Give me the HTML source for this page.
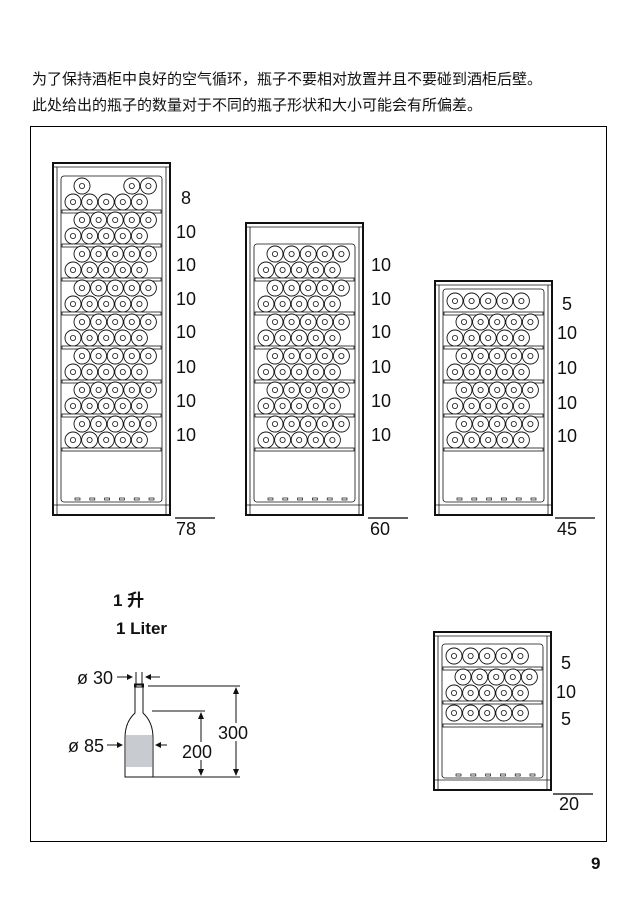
<!DOCTYPE html>
<html><head><meta charset="utf-8"><style>
body{margin:0;background:#fff;width:638px;height:903px;position:relative;overflow:hidden;font-family:"Liberation Sans","Noto Sans CJK SC",sans-serif;}
.t{position:absolute;left:32px;font-size:15px;line-height:18px;color:#111;white-space:nowrap;}
svg{position:absolute;left:0;top:0;}
</style></head><body>
<div class="t" style="top:71px">为了保持酒柜中良好的空气循环，瓶子不要相对放置并且不要碰到酒柜后壁。</div>
<div class="t" style="top:97px">此处给出的瓶子的数量对于不同的瓶子形状和大小可能会有所偏差。</div>
<svg id="s" width="638" height="903" viewBox="0 0 638 903" font-family="Liberation Sans, Noto Sans CJK SC, sans-serif">
<rect x="30.5" y="126.5" width="576" height="715" fill="none" stroke="#000" stroke-width="1"/>
<g id="cab"></g>
<g font-size="18" fill="#111">
<text x="181" y="204">8</text>
<text x="176" y="238">10</text><text x="176" y="271">10</text><text x="176" y="305">10</text><text x="176" y="338">10</text><text x="176" y="373">10</text><text x="176" y="407">10</text><text x="176" y="441">10</text>
<text x="371" y="271">10</text><text x="371" y="305">10</text><text x="371" y="338">10</text><text x="371" y="373">10</text><text x="371" y="407">10</text><text x="371" y="441">10</text>
<text x="562" y="310">5</text><text x="557" y="339">10</text><text x="557" y="374">10</text><text x="557" y="409">10</text><text x="557" y="442">10</text>
<text x="561" y="669">5</text><text x="556" y="698">10</text><text x="561" y="725">5</text>
<text x="176" y="535">78</text><text x="370" y="535">60</text><text x="557" y="535">45</text><text x="559" y="810">20</text>
</g>
<g stroke="#000" stroke-width="1.2">
<line x1="175" y1="518" x2="215" y2="518"/><line x1="368" y1="518" x2="408" y2="518"/><line x1="555" y1="518" x2="595" y2="518"/><line x1="553" y1="794" x2="593" y2="794"/>
</g>
<g font-weight="bold" font-size="17" fill="#111"><text x="113" y="606">1 升</text><text x="116" y="634">1 Liter</text></g>
<g fill="none" stroke="#111" stroke-width="1">
<rect x="126" y="735" width="26" height="32" fill="#c8cbd0" stroke="none"/>
<path d="M135,685 L135,713 Q125,722 125,738 L125,777 L153,777 L153,738 Q153,722 143,713 L143,685 Z"/>
<rect x="134.5" y="684" width="9" height="3"/>
<line x1="136" y1="672" x2="136" y2="687"/><line x1="142" y1="672" x2="142" y2="687"/>
<line x1="117" y1="677" x2="132" y2="677"/><line x1="146" y1="677" x2="160" y2="677"/>
<line x1="107" y1="745" x2="121" y2="745"/><line x1="157" y1="745" x2="167" y2="745"/>
<line x1="148" y1="686" x2="240" y2="686"/><line x1="152" y1="711" x2="205" y2="711"/><line x1="153" y1="777" x2="240" y2="777"/>
<line x1="236" y1="690" x2="236" y2="773"/><line x1="201" y1="715" x2="201" y2="773"/>
</g>
<g fill="#111">
<path d="M133,677 l-6,-3 v6z"/><path d="M145,677 l6,-3 v6z"/>
<path d="M123,745 l-6,-3 v6z"/><path d="M155,745 l6,-3 v6z"/>
<path d="M236,687 l-3,7 h6z"/><path d="M236,776 l-3,-7 h6z"/>
<path d="M201,712 l-3,7 h6z"/><path d="M201,776 l-3,-7 h6z"/>
</g>
<rect x="217" y="723" width="32" height="18" fill="#fff"/>
<rect x="181" y="742" width="32" height="18" fill="#fff"/>
<g font-size="18" fill="#111"><text x="77" y="684">ø 30</text><text x="68" y="752">ø 85</text><text x="218" y="739">300</text><text x="182" y="758">200</text></g>
<text x="591" y="869" font-size="17" font-weight="bold" fill="#111">9</text>
</svg>
<script>
var g=document.getElementById('cab'),h='';
function C(cx,cy){h+='<circle cx="'+cx+'" cy="'+cy+'" r="8" fill="#fff" stroke="#111" stroke-width="0.9"/><circle cx="'+cx+'" cy="'+cy+'" r="2.6" fill="none" stroke="#111" stroke-width="0.8"/>';}
function cab(x,y,b,panelTop,secs,drawBot){
 var w=117;
 h+='<rect x="'+x+'" y="'+y+'" width="'+w+'" height="'+(b-y)+'" fill="#fff" stroke="#111" stroke-width="2"/>';
 h+='<line x1="'+(x+4)+'" y1="'+(y+4)+'" x2="'+(x+4)+'" y2="'+(b-1)+'" stroke="#111" stroke-width="0.8"/><line x1="'+(x+w-4)+'" y1="'+(y+4)+'" x2="'+(x+w-4)+'" y2="'+(b-1)+'" stroke="#111" stroke-width="0.8"/>';
 h+='<line x1="'+x+'" y1="'+(y+4)+'" x2="'+(x+w)+'" y2="'+(y+4)+'" stroke="#111" stroke-width="0.8"/>';
 h+='<line x1="'+x+'" y1="'+(b-10)+'" x2="'+(x+w)+'" y2="'+(b-10)+'" stroke="#111" stroke-width="0.8"/>';
 h+='<rect x="'+(x+8)+'" y="'+panelTop+'" width="'+(w-16)+'" height="'+(drawBot-panelTop)+'" rx="3" fill="none" stroke="#111" stroke-width="0.8"/>';
 var cy=panelTop+2;
 secs.forEach(function(s){
  var top=cy;
  if(s=='5'){for(var i=0;i<5;i++)C(x+20+i*16.6,top+10);cy+=22;}
  else{
   for(var i=0;i<5;i++){ if(s=='8'&&(i==1||i==2))continue; C(x+29+i*16.6,top+8);}
   for(var i=0;i<5;i++)C(x+20+i*16.6,top+24);
   cy+=33;}
  h+='<rect x="'+(x+9)+'" y="'+(cy-1)+'" width="'+(w-18)+'" height="3" fill="#fff" stroke="#111" stroke-width="0.8"/>';
  cy+=1;
 });
 for(var i=0;i<6;i++)h+='<rect x="'+(x+22+i*14.8)+'" y="'+(drawBot-4)+'" width="5" height="2" fill="#fff" stroke="#111" stroke-width="0.7"/>';
}
cab(53,163,515,176,['8','10','10','10','10','10','10','10'],502);
cab(246,223,515,244,['10','10','10','10','10','10'],502);
cab(435,281,515,289,['5','10','10','10','10'],502);
cab(434,632,790,644,['5','10','5'],778);
g.innerHTML=h;
</script>
</body></html>
